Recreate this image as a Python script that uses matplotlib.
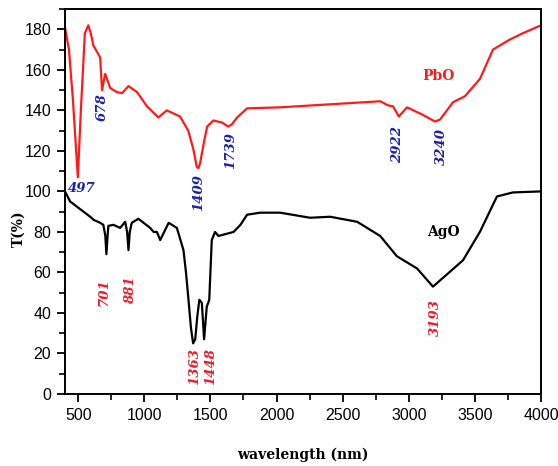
import matplotlib
matplotlib.use("Agg")
import matplotlib.pyplot as plt
from matplotlib.ticker import MultipleLocator

# PbO spectrum (red)
pbo_x = [400, 430, 460, 497, 520, 550, 576, 595, 615, 650, 666, 680, 704, 742, 794,
         832, 880, 945, 1020, 1106, 1170, 1270, 1332, 1370, 1397, 1410, 1422, 1450,
         1475, 1522, 1588, 1634, 1660, 1702, 1777, 2027, 2278, 2784, 2843, 2881,
         2925, 2987, 3100, 3199, 3237, 3334, 3425, 3538, 3637, 3765, 3860, 4000]
pbo_y = [181, 170, 145, 107, 140, 178, 182, 178, 172, 168, 166, 150, 158, 151, 149,
         148.5, 152, 149, 142, 136.5, 140, 137, 130, 121, 112, 111.5, 114, 124,
         132, 135, 134, 132, 133, 136.5, 141, 141.5, 142.5, 144.5, 142.5, 142,
         137, 141.5, 138, 134.5, 135.5, 144, 147, 155.5, 170, 175, 178, 182]

# AgO spectrum (black)
ago_x = [400, 439, 520, 600, 615, 666, 690, 705, 713, 722, 728, 766, 817, 855, 870,
         880, 890, 905, 955, 1044, 1070, 1095, 1120, 1184, 1246, 1296, 1315, 1334,
         1352, 1369, 1385, 1400, 1416, 1435, 1452, 1472, 1491, 1510, 1535, 1560,
         1675, 1727, 1777, 1876, 2027, 2254, 2405, 2610, 2784, 2910, 3062, 3183,
         3288, 3410, 3538, 3667, 3788, 4000]
ago_y = [100, 95, 91, 87, 86, 84.5, 83.5, 78, 69, 78, 83, 83.5, 82, 85, 80,
         71, 80, 84.5, 86.5, 82, 80, 80, 76, 84.5, 82, 71, 60, 46.5,
         33, 25, 27, 38, 46.5, 45, 27, 43, 46.5, 76, 80, 78,
         80, 83.5, 88.5, 89.5, 89.5, 87, 87.5, 85, 78, 68, 62, 53,
         59, 66, 80, 97.5, 99.5, 100]

# peak annotations
pbo_labels = ["497", "678", "1409", "1739", "2922", "3240"]
pbo_lx = [530, 680, 1414, 1656, 2918, 3251]
pbo_ly = [101.5, 141.5, 99.5, 120, 123, 122]
pbo_rot = [0, 90, 90, 90, 90, 90]

ago_labels = ["701", "881", "1363", "1448", "3193"]
ago_lx = [697, 893, 1384, 1505, 3199]
ago_ly = [50.5, 51.5, 13.5, 13.5, 38]

fig = plt.figure(figsize=(5.58, 4.66), dpi=100)
ax = fig.add_axes([0.1165, 0.1545, 0.853, 0.826])

ax.plot(pbo_x, pbo_y, color="#ff1a1a", lw=1.6)
ax.plot(ago_x, ago_y, color="black", lw=1.6)

ann = dict(family="DejaVu Serif", fontweight="bold", fontstyle="italic",
           fontsize=9.5, ha="center", va="center")
for t, x, y, r in zip(pbo_labels, pbo_lx, pbo_ly, pbo_rot):
    ax.text(x, y, t, color="#1c22a8", rotation=r, **ann)
for t, x, y in zip(ago_labels, ago_lx, ago_ly):
    ax.text(x, y, t, color="#ee1c2a", rotation=90, **ann)

ax.text(3221, 157, "PbO", color="#ff1a1a", family="DejaVu Serif",
        fontweight="bold", fontsize=10, ha="center", va="center")
ax.text(3259, 80, "AgO", color="black", family="DejaVu Serif",
        fontweight="bold", fontsize=10, ha="center", va="center")

ax.set_xlim(400, 4000)
ax.set_ylim(0, 190)
ax.xaxis.set_major_locator(MultipleLocator(500))
ax.xaxis.set_minor_locator(MultipleLocator(250))
ax.yaxis.set_major_locator(MultipleLocator(20))
ax.yaxis.set_minor_locator(MultipleLocator(10))
ax.tick_params(which="major", direction="out", length=6, width=1.3,
               labelsize=11.5, pad=4)
ax.tick_params(which="minor", direction="out", length=4, width=1.2)
for lab in ax.get_xticklabels() + ax.get_yticklabels():
    lab.set_family("Liberation Sans")
for s in ax.spines.values():
    s.set_linewidth(1.4)

ax.set_xlabel("wavelength (nm)", family="DejaVu Serif", fontweight="bold",
              fontsize=10)
ax.set_ylabel("T(%)", family="DejaVu Serif", fontweight="bold", fontsize=10)
ax.xaxis.set_label_coords(0.5, -0.138)
ax.yaxis.set_label_coords(-0.083, 0.43)

fig.savefig("out.png", dpi=100)
